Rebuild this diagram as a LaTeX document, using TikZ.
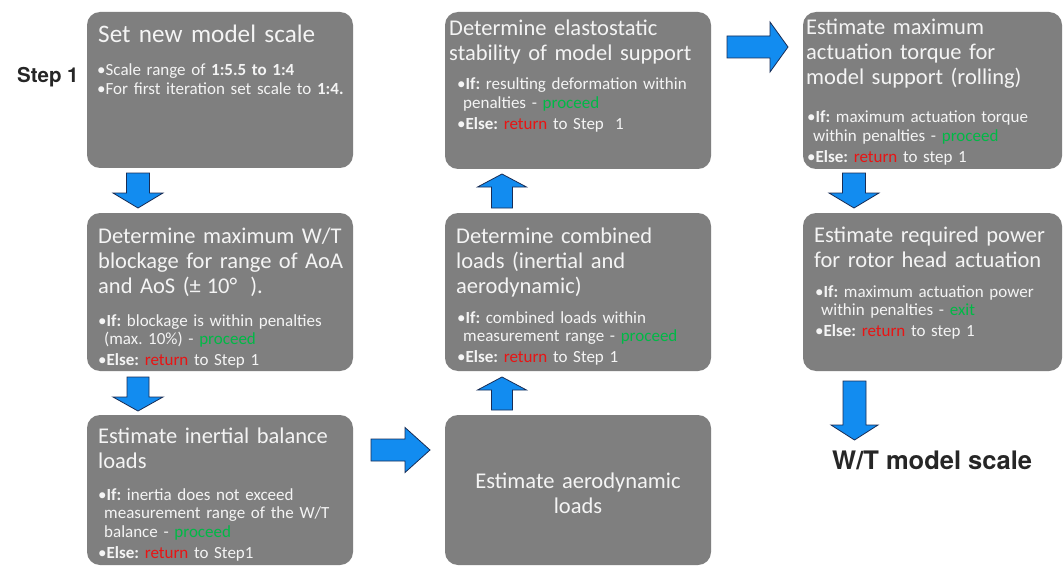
\documentclass[tikz,border=0pt]{standalone}
\usepackage{fontspec}
\setmainfont{Carlito}
\newfontfamily\herosfont{TeX Gyre Heros}
\usetikzlibrary{calc}
\frenchspacing
\definecolor{boxgray}{RGB}{127,127,127}
\definecolor{boxtext}{RGB}{244,244,244}
\definecolor{procgreen}{RGB}{0,185,70}
\definecolor{retred}{RGB}{232,20,20}
\definecolor{arrowblue}{RGB}{18,140,240}
\definecolor{arrowedge}{RGB}{25,45,85}
\definecolor{labeldark}{RGB}{38,38,38}
\newcommand\proc{\textcolor{procgreen}{proceed}}
\newcommand\ret{\textcolor{retred}{return}}
\newcommand\bgap{\par\vspace{2.5pt}\hangindent=6pt}
% block arrow: tail, tip, head length, shaft half width, head half width
\newcommand\blockarrow[5]{%
  \coordinate (hb) at ($(#2)!#3!(#1)$);
  \draw[blockarrowstyle] ($(#1)!#4!90:(#2)$) -- ($(hb)!#4!90:(#2)$) -- ($(hb)!#5!90:(#2)$) -- (#2)
    -- ($(hb)!#5!-90:(#2)$) -- ($(hb)!#4!-90:(#2)$) -- ($(#1)!#4!-90:(#2)$) -- cycle;
}
\begin{document}
\begin{tikzpicture}[x=1pt,y=-1pt,
  box/.style={fill=boxgray, rounded corners=13pt, draw=none, inner sep=0pt},
  titletext/.style={anchor=base west, inner sep=0pt, text=boxtext, text width=262pt, align=left,
    font=\fontsize{22.5}{25}\selectfont},
  bullettext/.style={anchor=base west, inner sep=0pt, text=boxtext, text width=262pt, align=left,
    font=\fontsize{17}{18.5}\selectfont},
  sidelabel/.style={anchor=base west, inner sep=0pt, text=labeldark, font=\herosfont\bfseries},
  blockarrowstyle/.style={fill=arrowblue, draw=arrowedge, line width=0.8pt, line join=miter}]
\useasboundingbox[fill=white] (0,0) rectangle (1063,567);

% boxes
\node[box, minimum width=266pt, minimum height=156pt] (b1) at (220,90) {};
\node[box, minimum width=266pt, minimum height=158pt] (b2) at (220,292) {};
\node[box, minimum width=266pt, minimum height=150pt] (b3) at (220,490) {};
\node[box, minimum width=266pt, minimum height=150pt] (b4) at (578,490) {};
\node[box, minimum width=266pt, minimum height=158pt] (b5) at (578,292) {};
\node[box, minimum width=266pt, minimum height=157pt] (b6) at (578,90.5) {};
\node[box, minimum width=259pt, minimum height=157pt] (b7) at (932.5,90.5) {};
\node[box, minimum width=259pt, minimum height=158pt] (b8) at (932.5,292) {};

% box 1
\node[titletext, font=\fontsize{25.2}{28}\selectfont] (t1) at (98,43) {Set new model scale};
\node[bullettext] (u1) at (97,76) {•Scale range of \textbf{1:5.5 to 1:4}\par •For first iteration set scale to \textbf{1:4.}};
% box 2
\node[titletext] (t2) at (98,243) {Determine maximum W/T\newline blockage for range of AoA\newline and AoS (±\hspace{6pt}10°\hspace{13pt}).};
\node[bullettext] (u2) at (98,326) {\hangindent=6pt•\textbf{If:} blockage is within penalties\newline (max. 10\%) - \proc\bgap •\textbf{Else:} \ret{} to Step 1};
% box 3
\node[titletext] (t3) at (98,443) {Estimate inertial balance\newline loads};
\node[bullettext] (u3) at (98,500) {\hangindent=6pt•\textbf{If:} inertia does not exceed\newline measurement range of the W/T\newline balance - \proc\bgap •\textbf{Else:} \ret{} to Step1};
% box 4
\node[titletext, anchor=base, text width=266pt, align=center] (t4) at (578,488) {Estimate aerodynamic\\ loads};
% box 5
\node[titletext] (t5) at (456,243) {Determine combined\newline loads (inertial and\newline aerodynamic)};
\node[bullettext] (u5) at (457,323) {\hangindent=6pt•\textbf{If:} combined loads within\newline measurement range - \proc\bgap •\textbf{Else:} \ret{} to Step 1};
% box 6
\node[titletext] (t6) at (449,36) {Determine elastostatic\newline stability of model support};
\node[bullettext] (u6) at (457,90) {\hangindent=6pt•\textbf{If:} resulting deformation within\newline penalties - \proc\bgap •\textbf{Else:} \ret{} to Step\ \ 1};
% box 7
\node[titletext] (t7) at (806,35) {Estimate maximum\newline actuation torque for\newline model support (rolling)};
\node[bullettext] (u7) at (807,123) {\hangindent=6pt•\textbf{If:} maximum actuation torque\newline within penalties - \proc\bgap •\textbf{Else:} \ret{} to step 1};
% box 8
\node[titletext] (t8) at (814,242) {Estimate required power\newline for rotor head actuation};
\node[bullettext] (u8) at (815,297) {\hangindent=6pt•\textbf{If:} maximum actuation power\newline within penalties - \textcolor{procgreen}{exit}\bgap •\textbf{Else:} \ret{} to step 1};

% side labels
\node[sidelabel, font=\herosfont\bfseries\fontsize{20.5}{22}\selectfont] (step) at (17,83) {Step 1};
\node[sidelabel, font=\herosfont\bfseries\fontsize{25.5}{27}\selectfont] (result) at (832,469) {W/T model scale};

% arrow end points
\coordinate (a1s) at (138,173);   \coordinate (a1e) at (138,208);
\coordinate (a2s) at (138,377);   \coordinate (a2e) at (138,411);
\coordinate (a3s) at (371,450);   \coordinate (a3e) at (430,450);
\coordinate (a4s) at (502,410);   \coordinate (a4e) at (502,377);
\coordinate (a5s) at (502,208);   \coordinate (a5e) at (502,174);
\coordinate (a6s) at (727,47);    \coordinate (a6e) at (788,47);
\coordinate (a7s) at (854,173);   \coordinate (a7e) at (854,208);
\coordinate (a8s) at (854.5,381); \coordinate (a8e) at (854.5,440);

\blockarrow{a1s}{a1e}{15pt}{11.5pt}{25pt}
\blockarrow{a2s}{a2e}{14pt}{11pt}{25pt}
\blockarrow{a3s}{a3e}{25pt}{11pt}{22.5pt}
\blockarrow{a4s}{a4e}{13pt}{10.5pt}{24.5pt}
\blockarrow{a5s}{a5e}{13pt}{10.5pt}{24.5pt}
\blockarrow{a6s}{a6e}{18pt}{11pt}{25pt}
\blockarrow{a7s}{a7e}{15pt}{11.5pt}{25pt}
\blockarrow{a8s}{a8e}{15pt}{11.5pt}{23.5pt}
\end{tikzpicture}
\end{document}
